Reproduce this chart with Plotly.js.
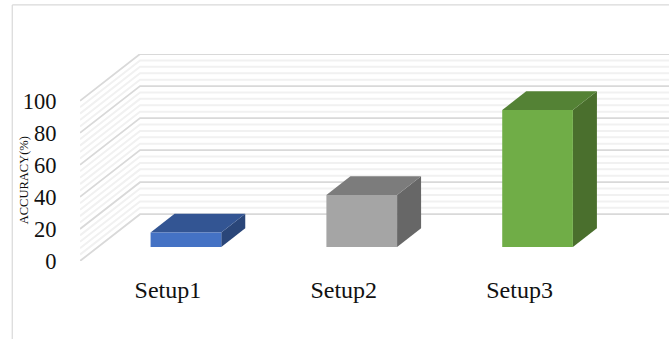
<!DOCTYPE html>
<html>
<head>
<meta charset="utf-8">
<script src="https://cdn.plot.ly/plotly-3.0.1.min.js"></script>
<style>html,body{margin:0;padding:0;background:#fff;overflow:hidden}</style>
</head>
<body>
<div id="chart" style="width:669px;height:339px"></div>
<script>
// Chart content
const categories = ['Setup1', 'Setup2', 'Setup3'];
const accuracy = [9, 32.5, 85.5];
const yTicks = [0, 20, 40, 60, 80, 100];
const minorStep = 4;

// Face colours per bar
const frontColors = ['#4472C4', '#A5A5A5', '#70AD47'];
const topColors = ['#335593', '#7C7C7C', '#548235'];
const sideColors = ['#2A4679', '#676767', '#4A6F2D'];

// Oblique projection: full depth of the floor expressed in axis units
const depthX = 0.3414;
const depthY = 29.2;
const barWidth = 0.402;
const barDepthStart = 0.3;
const barDepthEnd = 0.7;
const xMin = -0.5;
const xMax = 2.85;

const project = (x, y, d) => [x + d * depthX, y + d * depthY];

function polygon(points, color) {
  const p = points.map(q => project(q[0], q[1], q[2]));
  return {
    x: p.map(q => q[0]).concat(p[0][0]),
    y: p.map(q => q[1]).concat(p[0][1]),
    mode: 'lines', fill: 'toself', fillcolor: color,
    line: {color: color, width: 0},
    hoverinfo: 'skip', showlegend: false, cliponaxis: false
  };
}

// Wall gridlines: diagonal on the side wall, horizontal on the back wall
function gridTrace(levels, color, width) {
  const xs = [], ys = [];
  levels.forEach(v => {
    const a = project(xMin, v, 0), b = project(xMin, v, 1);
    xs.push(a[0], b[0], xMax, null);
    ys.push(a[1], b[1], b[1], null);
  });
  return {x: xs, y: ys, mode: 'lines', line: {color, width},
    hoverinfo: 'skip', showlegend: false, cliponaxis: false};
}

const minorLevels = [];
for (let v = 0; v < 100; v += minorStep) {
  if (v % 20 !== 0) minorLevels.push(v);
}

const traces = [
  gridTrace(minorLevels, '#F1F1F1', 2),
  gridTrace(yTicks, '#D9D9D9', 1.8)
];

categories.forEach((c, i) => {
  const l = i - barWidth / 2, r = i + barWidth / 2;
  const v = accuracy[i], d0 = barDepthStart, d1 = barDepthEnd;
  traces.push(polygon([[r, 0, d0], [r, 0, d1], [r, v, d1], [r, v, d0]], sideColors[i]));
  traces.push(polygon([[l, v, d0], [r, v, d0], [r, v, d1], [l, v, d1]], topColors[i]));
  traces.push(polygon([[l, 0, d0], [r, 0, d0], [r, v, d0], [l, v, d0]], frontColors[i]));
});

const serif = 'Liberation Serif, Times New Roman, serif';

const layout = {
  width: 669, height: 339,
  margin: {l: 80, r: 0, t: 54, b: 78},
  paper_bgcolor: '#fff', plot_bgcolor: '#fff',
  showlegend: false,
  xaxis: {
    range: [xMin, xMax], tickvals: [0, 1, 2], ticktext: categories,
    showgrid: false, zeroline: false, showline: false,
    ticks: 'outside', ticklen: 7, tickcolor: 'rgba(0,0,0,0)',
    tickfont: {family: serif, size: 24, color: '#111'}
  },
  yaxis: {
    range: [0, 100 + depthY], tickvals: yTicks,
    showgrid: false, zeroline: false, showline: false,
    ticks: 'outside', ticklen: 18, tickcolor: 'rgba(0,0,0,0)',
    tickfont: {family: serif, size: 22.5, color: '#111'}
  },
  annotations: [{
    text: 'ACCURACY(%)', textangle: -90, showarrow: false,
    xref: 'paper', yref: 'paper', x: -0.095, y: 0.39,
    xanchor: 'center', yanchor: 'middle',
    font: {family: serif, size: 12.5, color: '#111'}
  }],
  // Chart frame: top and left edges
  shapes: [
    {type: 'line', xref: 'paper', yref: 'paper', x0: -0.115, x1: 1, y0: 1.237, y1: 1.237,
      line: {color: '#D9D9D9', width: 1.2}},
    {type: 'line', xref: 'paper', yref: 'paper', x0: -0.115, x1: -0.115, y0: 1.237, y1: -0.377,
      line: {color: '#D9D9D9', width: 1.2}}
  ]
};

Plotly.newPlot('chart', traces, layout, {displayModeBar: false, staticPlot: true});
</script>
</body>
</html>
